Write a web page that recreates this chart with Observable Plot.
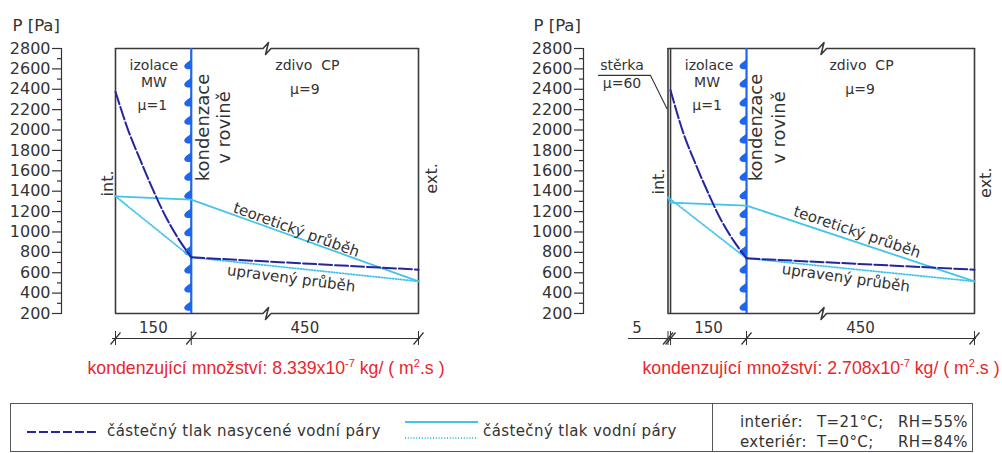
<!DOCTYPE html>
<html><head><meta charset="utf-8">
<script src="https://cdn.jsdelivr.net/npm/d3@7"></script>
<script src="https://cdn.jsdelivr.net/npm/@observablehq/plot@0.6"></script>
<style>
body{margin:0;background:#fff;}
#wrap{position:relative;width:1002px;height:453px;overflow:hidden;font-family:"DejaVu Sans",Verdana,sans-serif;color:#333;}
.abs{position:absolute;white-space:nowrap;}
.cap{font-family:"Liberation Sans",Arial,sans-serif;font-size:17.7px;color:#e8262b;text-align:center;line-height:20px;}
.cap sup{font-size:11px;vertical-align:0;position:relative;top:-7px;}
.lg{font-size:15px;letter-spacing:0.4px;line-height:18px;}
</style></head><body>
<div id="wrap">
 <div id="c1" class="abs" style="left:0;top:0"></div>
 <div id="c2" class="abs" style="left:501px;top:0"></div>
 <div id="cap1" class="abs cap" style="left:66px;width:400px;top:358px"></div>
 <div id="cap2" class="abs cap" style="left:621px;width:400px;top:358px"></div>
 <div class="abs" style="left:10px;top:403px;width:963px;height:49px;border:1px solid #555;box-sizing:border-box"></div>
 <div class="abs" style="left:712px;top:403px;width:1px;height:49px;background:#555"></div>
 <svg class="abs" style="left:0;top:0" width="1002" height="453">
  <line x1="27" y1="432" x2="98" y2="432" stroke="#25259e" stroke-width="2" stroke-dasharray="9,3"/>
  <line x1="405" y1="422" x2="478" y2="422" stroke="#43c3ea" stroke-width="2"/>
  <line x1="405" y1="438" x2="478" y2="438" stroke="#43c3ea" stroke-width="1.8" stroke-dasharray="1,1.8"/>
 </svg>
 <div id="lg1" class="abs lg" style="left:107px;top:422px"></div>
 <div id="lg2" class="abs lg" style="left:483px;top:422px"></div>
 <div id="clim"></div>
</div>
<script>
// ---------- data ----------
const yTicks = [200, 400, 600, 800, 1000, 1200, 1400, 1600, 1800, 2000, 2200, 2400, 2600, 2800];
const yMinor = [300, 500, 700, 900, 1100, 1300, 1500, 1700, 1900, 2100, 2300, 2500, 2700];

// x positions in mm from the interior face
const satInsX = [0, 25, 50, 75, 100, 125, 150];
const satBrickX = [150, 600];

// variant 1: insulation MW 150 + brick 450
const bounds1 = [0, 150, 600];
const dims1 = ["150", "450"];
const satIns1 = [2375, 2000, 1695, 1405, 1145, 930, 751];
const satBrick1 = [751, 630];
const theoryX1 = [0, 150, 600];
const theory1 = [1350, 1318, 515];
const adjX1 = [0, 150, 600];
const adj1 = [1350, 751, 515];

// variant 2: plaster 5 + insulation MW 150 + brick 450
const bounds2 = [-5, 0, 150, 600];
const dims2 = ["5", "150", "450"];
const satIns2 = [2390, 1975, 1660, 1375, 1115, 910, 741];
const satBrick2 = [741, 630];
const theoryX2 = [-5, 0, 150, 600];
const theory2 = [1340, 1287, 1259, 515];
const adjX2 = [-5, 150, 600];
const adj2 = [1340, 741, 515];

const condensate = ["8.339", "2.708"];
const seriesNames = ["částečný tlak nasycené vodní páry", "částečný tlak vodní páry"];
const climate = [["interiér:", "T=21°C;", "RH=55%"], ["exteriér:", "T=0°C;", "RH=84%"]];
const dropTips = [2700, 2520, 2335, 2155, 1970, 1790, 1605, 1425, 1240, 1060, 875, 695, 510, 330];

// ---------- style ----------
const NAVY = "#25259e", CYAN = "#43c3ea", PLANE = "#1e66ee", INK = "#333", FRAME = "#3a3a3a";
const FONT = "DejaVu Sans, Verdana, sans-serif";

const drop = {
  draw(ctx) {
    ctx.moveTo(0, 0);
    ctx.bezierCurveTo(-1, 2.5, -7, 4.5, -7, 7.5);
    ctx.bezierCurveTo(-7, 10, -4, 10.5, -2, 10.5);
    ctx.lineTo(0, 10.5);
    ctx.closePath();
  }
};

const pts = (xs, ys) => xs.map((x, i) => ({x, p: ys[i]}));

function chart(c) {
  const xDomain = [c.bounds[0], c.bounds[c.bounds.length - 1]];
  const sx = d3.scaleLinear().domain(xDomain).range(c.range);
  const sy = d3.scaleLinear().domain([200, 2800]).range([313, 48]);
  const ox = (v, px) => sx.invert(sx(v) + px);
  const oy = (v, px) => sy.invert(sy(v) + px);
  const L = xDomain[0], R = xDomain[1], TOP = 2800, BOT = 200, BRK = 300;
  const brk = (y) => [[L, y], [ox(BRK, -4), y], [ox(BRK, 1.5), oy(y, -6)], [ox(BRK, -1.5), oy(y, 6)], [ox(BRK, 4), y], [R, y]];
  const DIM = oy(BOT, 25);
  const place = (arr) => arr.map(d => ({...d, x: d.off ? ox(d.x, d.off) : d.x}));
  const txt = (arr, o) => Plot.text(place(arr), {x: "x", y: "p", text: "t", fill: INK, fontFamily: FONT, ...o});
  const dimPos = c.dims.map((t, i) => {
    const a = c.bounds[i], b = c.bounds[i + 1];
    const w = sx(b) - sx(a);
    return {t, x: w < 20 ? ox(a, -31) : (a + b) / 2, p: oy(DIM, -10)};
  });
  const tickLabelX = sx.invert(c.axisLeft - 11);
  const marks = [
    Plot.line(brk(TOP), {x: d => d[0], y: d => d[1], stroke: FRAME, strokeWidth: 1.6}),
    Plot.line(brk(BOT), {x: d => d[0], y: d => d[1], stroke: FRAME, strokeWidth: 1.6}),
    Plot.ruleX(c.walls, {y1: BOT, y2: TOP, stroke: FRAME, strokeWidth: 1.6}),
    Plot.ruleX([150], {y1: BOT, y2: TOP, stroke: PLANE, strokeWidth: 2.2}),
    Plot.dot(dropTips, {x: 150, y: d => d, symbol: drop, fill: PLANE, stroke: "none", r: 4}),
    Plot.line(pts(c.adjX, c.adj), {x: "x", y: "p", stroke: CYAN, strokeWidth: 1.8, strokeDasharray: "1,1.8"}),
    Plot.line(pts(c.theoryX, c.theory), {x: "x", y: "p", stroke: CYAN, strokeWidth: 1.8}),
    Plot.line(pts(satInsX, c.satIns), {x: "x", y: "p", curve: "catmull-rom", stroke: NAVY, strokeWidth: 2, strokeDasharray: "13,3"}),
    Plot.line(pts(satBrickX, c.satBrick), {x: "x", y: "p", stroke: NAVY, strokeWidth: 2, strokeDasharray: "13,3"}),
    txt(c.labels, {fontSize: 14}),
    txt(c.vlabels, {fontSize: 18, rotate: -90}),
    txt(c.side, {fontSize: 16, rotate: -90}),
    txt([c.theoryLabel], {fontSize: 15, rotate: c.theoryLabel.rot}),
    txt([c.adjLabel], {fontSize: 15, rotate: c.adjLabel.rot}),
    // dimension line
    Plot.ruleY([DIM], {x1: ox(L, c.dimStart), x2: ox(R, 2), stroke: INK, strokeWidth: 1}),
    Plot.ruleX(c.bounds, {y1: oy(DIM, -7), y2: oy(DIM, 7), stroke: INK, strokeWidth: 1}),
    Plot.link(c.bounds, {x1: b => ox(b, -5), x2: b => ox(b, 5), y1: oy(DIM, 6), y2: oy(DIM, -6), stroke: INK, strokeWidth: 1.2}),
    Plot.text(dimPos, {x: "x", y: "p", text: "t", fill: INK, fontFamily: FONT, fontSize: 15}),
    // y axis
    Plot.frame({anchor: "left", stroke: INK, strokeWidth: 1.2}),
    Plot.axisY(yTicks, {anchor: "left", tickSize: 9, tickFormat: () => "", label: null, strokeWidth: 1.2}),
    Plot.axisY(yMinor, {anchor: "left", tickSize: 4, tickFormat: () => "", label: null, strokeWidth: 1.2}),
    Plot.text(yTicks, {x: tickLabelX, y: d => d, text: d => String(d), textAnchor: "end", fontSize: 16, fill: INK, fontFamily: FONT}),
    Plot.text([{t: "P [Pa]"}], {x: sx.invert(c.axisLeft + c.labelDx), y: sy.invert(25), text: "t", textAnchor: "start", fontSize: 16.5, fill: INK, fontFamily: FONT})
  ];
  if (c.leader) {
    marks.push(Plot.line(c.leader.map(d => ({x: ox(d.x, d.off), p: d.p})), {x: "x", y: "p", stroke: INK, strokeWidth: 1.1}));
  }
  return Plot.plot({
    width: 501, height: 395, marginTop: 48, marginBottom: 82, marginLeft: c.axisLeft, marginRight: 0,
    x: {domain: xDomain, range: c.range, axis: null},
    y: {domain: [200, 2800], axis: null},
    style: {fontFamily: FONT, fontSize: "15px", color: INK, background: "transparent", overflow: "visible"},
    marks
  });
}

const cfg1 = {
  bounds: bounds1, range: [115, 418], walls: [0, 600], axisLeft: 61, labelDx: -49, dimStart: -3,
  dims: dims1, satIns: satIns1, satBrick: satBrick1, theoryX: theoryX1, theory: theory1, adjX: adjX1, adj: adj1,
  labels: [
    {x: 76, p: 2635, t: "izolace"}, {x: 76, p: 2470, t: "MW"}, {x: 73, p: 2240, t: "μ=1"},
    {x: 380, p: 2635, t: "zdivo  CP"}, {x: 375, p: 2395, t: "μ=9"}
  ],
  vlabels: [{x: 173, p: 2025, t: "kondenzace"}, {x: 215, p: 2025, t: "v rovině"}],
  side: [{x: 0, off: -8, p: 1476, t: "int."}, {x: 600, off: 13, p: 1525, t: "ext."}],
  theoryLabel: {x: 358, p: 1019, t: "teoretický průběh", rot: 20},
  adjLabel: {x: 348, p: 543, t: "upravený průběh", rot: 7.5}
};
const cfg2 = {
  bounds: bounds2, range: [166.5, 473], walls: [-5, 0, 600], axisLeft: 82, labelDx: -50, dimStart: -39.5,
  dims: dims2, satIns: satIns2, satBrick: satBrick2, theoryX: theoryX2, theory: theory2, adjX: adjX2, adj: adj2,
  labels: [
    {x: 76, p: 2635, t: "izolace"}, {x: 72, p: 2470, t: "MW"}, {x: 72, p: 2240, t: "μ=1"},
    {x: 377, p: 2635, t: "zdivo  CP"}, {x: 374, p: 2395, t: "μ=9"},
    {x: -5, off: -46, p: 2635, t: "stěrka"}, {x: -5, off: -46, p: 2454, t: "μ=60"}
  ],
  vlabels: [{x: 169, p: 2025, t: "kondenzace"}, {x: 215, p: 2025, t: "v rovině"}],
  side: [{x: -5, off: -9.5, p: 1495, t: "int."}, {x: 600, off: 11, p: 1483, t: "ext."}],
  theoryLabel: {x: 368, p: 998, t: "teoretický průběh", rot: 18.6},
  adjLabel: {x: 346, p: 548, t: "upravený průběh", rot: 8},
  leader: [{x: -5, off: -69.5, p: 2536}, {x: -5, off: -17.5, p: 2536}, {x: -5, off: -1, p: 2209}]
};

document.getElementById("c1").append(chart(cfg1));
document.getElementById("c2").append(chart(cfg2));

const capHTML = v => `kondenzující množství: ${v}x10<sup>-7</sup> kg/ ( m<sup>2</sup>.s )`;
document.getElementById("cap1").innerHTML = capHTML(condensate[0]);
document.getElementById("cap2").innerHTML = capHTML(condensate[1]);
document.getElementById("lg1").textContent = seriesNames[0];
document.getElementById("lg2").textContent = seriesNames[1];
const clim = document.getElementById("clim");
const colX = [740, 817, 898], rowTop = [413, 433];
climate.forEach((row, r) => row.forEach((t, k) => {
  const d = document.createElement("div");
  d.className = "abs lg";
  d.style.left = colX[k] + "px";
  d.style.top = rowTop[r] + "px";
  d.textContent = t;
  clim.append(d);
}));
</script>
</body></html>
